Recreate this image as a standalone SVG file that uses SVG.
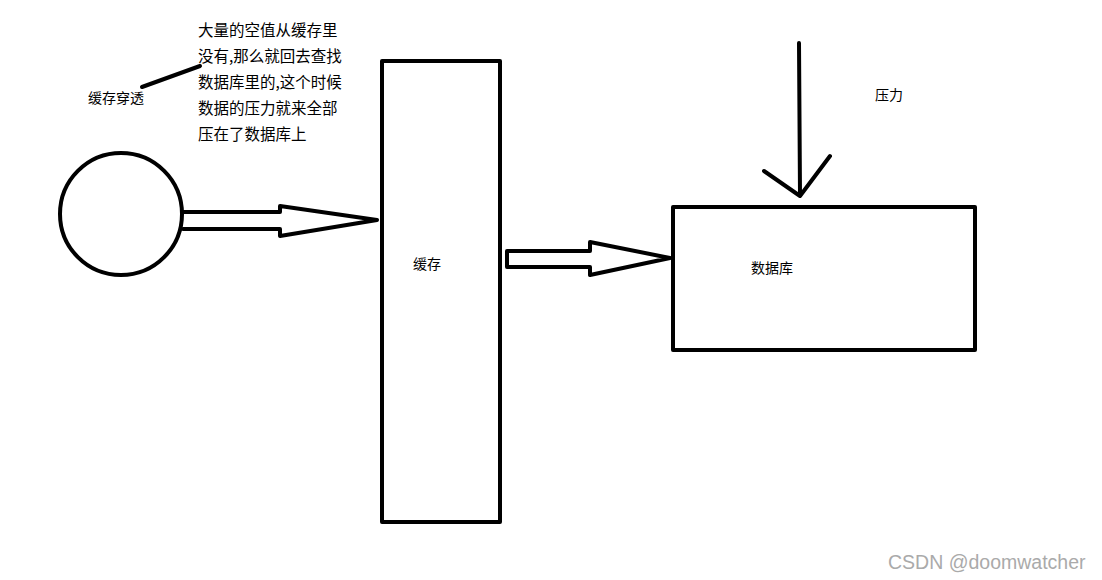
<svg xmlns="http://www.w3.org/2000/svg" width="1102" height="580" viewBox="0 0 1102 580">
<style>
.s{fill:none;stroke:#000;stroke-width:4;stroke-linejoin:round;stroke-linecap:round}
.t{font-family:"Microsoft YaHei","Noto Sans CJK SC",sans-serif;font-size:14px;fill:#000}
.p{font-size:15.5px}
.w{font-family:"Liberation Sans","Noto Sans CJK SC",sans-serif;font-size:19.5px;fill:#aaa}
</style>
<rect width="1102" height="580" fill="#fff"/>
<g id="client"><circle class="s" cx="121" cy="214" r="61"/></g>
<g id="cache"><rect class="s" x="382" y="61" width="118" height="461"/><text class="t" x="413" y="269">缓存</text></g>
<g id="db"><rect class="s" x="673" y="207" width="302" height="143"/><text class="t" x="751" y="273">数据库</text></g>
<g id="connectors">
<path class="s" d="M183 212 H280 V206 L377 220 L280 236 V229 H183"/>
<path class="s" d="M507 251 H590 V242 L670 258 L590 275 V267 H507 Z"/>
<path class="s" d="M799 43 L800 195 M764 171 L800 196 L830 156"/>
<path class="s" d="M142 87 L200 66"/>
</g>
<g id="labels">
<text class="t" x="88" y="103">缓存穿透</text>
<text class="t p" x="198" y="36">大量的空值从缓存里</text>
<text class="t p" x="198" y="62">没有,那么就回去查找</text>
<text class="t p" x="198" y="88">数据库里的,这个时候</text>
<text class="t p" x="198" y="114">数据的压力就来全部</text>
<text class="t p" x="198" y="140">压在了数据库上</text>
<text class="t" x="875" y="100">压力</text>
<text class="w" x="888" y="569">CSDN @doomwatcher</text>
</g>
</svg>
